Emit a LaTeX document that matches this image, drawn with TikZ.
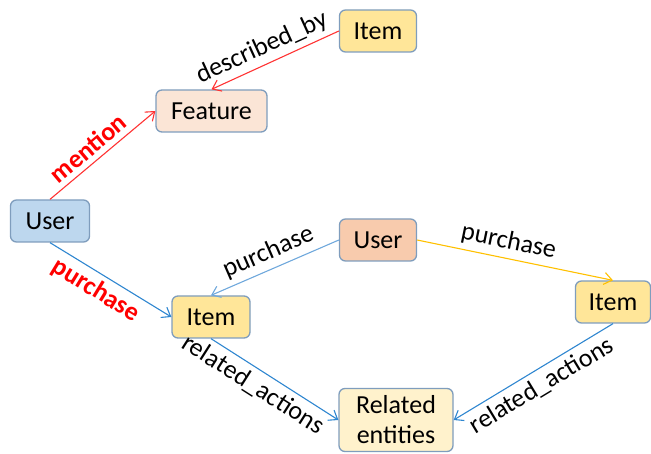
\documentclass[tikz,border=0pt]{standalone}
\usepackage{fontspec}
\setmainfont{Carlito}
\usetikzlibrary{arrows.meta}

\definecolor{boxline}{HTML}{7F9DBD}
\definecolor{userfill}{HTML}{BDD7EE}
\definecolor{itemfill}{HTML}{FFE699}
\definecolor{featfill}{HTML}{FBE5D6}
\definecolor{ownerfill}{HTML}{F8CBAD}
\definecolor{relfill}{HTML}{FFF2CC}
\definecolor{redline}{HTML}{FF3333}
\definecolor{blueline}{HTML}{2E86D0}
\definecolor{paleblue}{HTML}{6FA8DC}
\definecolor{goldline}{HTML}{FFC000}
\definecolor{redtext}{HTML}{FF0000}

\tikzset{
  entity/.style = {draw = boxline, line width = 1.3pt, rounded corners = 6pt,
    minimum height = 42pt, inner sep = 2pt, font = \fontsize{26}{29}\selectfont},
  rel/.style = {-{Straight Barb[length = 8pt, width = 12pt]}, line width = 1.1pt},
  lbl/.style = {sloped, text = black, font = \fontsize{26}{29}\selectfont, inner sep = 5pt},
  hot/.style = {lbl, text = redtext, font = \fontsize{26}{29}\selectfont\bfseries}
}

\begin{document}
\begin{tikzpicture}[x = 1pt, y = 1pt, yscale = 1, xscale = 1]
\useasboundingbox (0, 0) rectangle (651, 453);

\node[entity, fill = itemfill, minimum width = 77pt] (itemtop) at (378, 422) {Item};
\node[entity, fill = featfill, minimum width = 111pt] (feature) at (211.5, 342) {Feature};
\node[entity, fill = userfill, minimum width = 79pt] (userleft) at (50, 232) {User};
\node[entity, fill = ownerfill, minimum width = 77pt] (usermid) at (378, 213) {User};
\node[entity, fill = itemfill, minimum width = 78pt] (itemleft) at (211, 136) {Item};
\node[entity, fill = itemfill, minimum width = 75pt] (itemright) at (613, 151) {Item};
\node[entity, fill = relfill, minimum width = 114pt, minimum height = 63pt,
  align = center, font = \fontsize{26}{30}\selectfont] (related) at (396, 33) {Related\\entities};

\draw[rel, redline] (itemtop.west) -- node[lbl, above, pos = 0.55] {described\_by} (feature.north);
\draw[rel, redline] (userleft.north) -- node[hot, above, pos = 0.45] {mention} (feature.west);

\draw[rel, blueline] (userleft.south) -- node[hot, below, pos = 0.45] {purchase} (itemleft.west);
\draw[rel, paleblue] (usermid.west) -- node[lbl, above] {purchase} (itemleft.north);
\draw[rel, goldline] (usermid.east) -- node[lbl, above, pos = 0.45] {purchase} (itemright.north);

\draw[rel, blueline] (itemleft.south) -- node[lbl, below, pos = 0.4] {related\_actions} (related.west);
\draw[rel, blueline] (itemright.south) -- node[lbl, below, pos = 0.5] {related\_actions} (related.east);
\end{tikzpicture}
\end{document}
